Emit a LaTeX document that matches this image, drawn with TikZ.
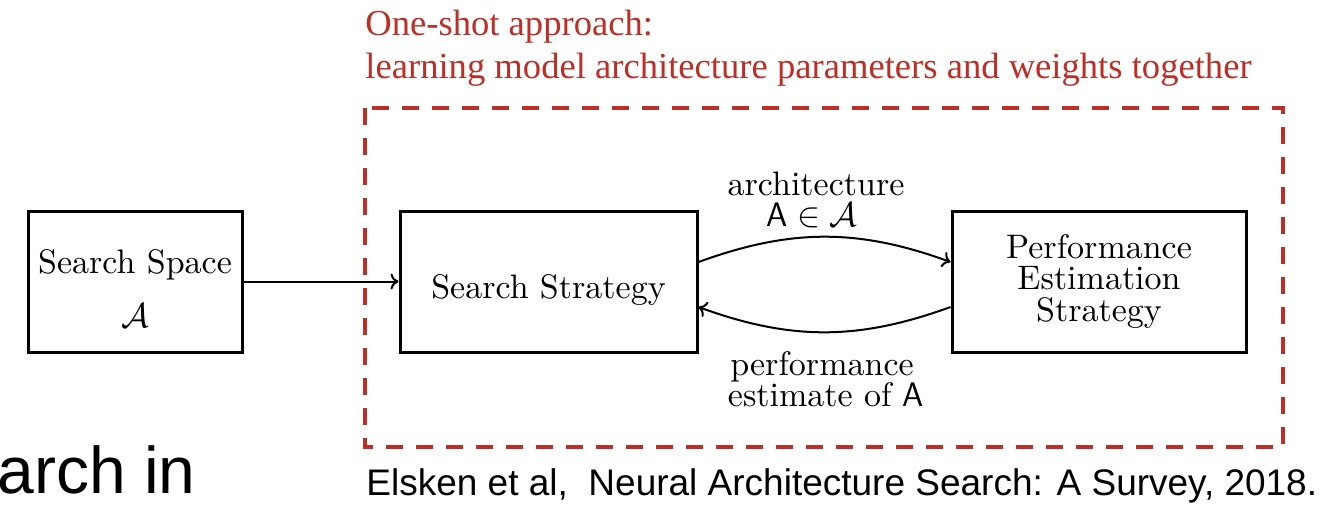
\documentclass[tikz,border=0pt]{standalone}
\usepackage{fontspec}
\newfontfamily\boxfont{lmroman10-regular}[Extension=.otf]
\newfontfamily\citefont{Liberation Sans}
\newfontfamily\notefont{Liberation Serif}
\definecolor{oneshotred}{RGB}{190,45,38}
\usetikzlibrary{arrows.meta}

\begin{document}
\begin{tikzpicture}[x=0.5pt,y=-0.5pt,
    block/.style={draw,line width=1.5pt,minimum height=70.5pt,align=center,inner sep=0pt,font=\boxfont\fontsize{17}{15.75}\selectfont},
    flow/.style={-{To[length=4pt,width=8pt]},line width=1pt},
    lbl/.style={anchor=base,inner sep=0pt,font=\boxfont\fontsize{17}{20}\selectfont},
    note/.style={anchor=base west,inner sep=0pt,text=oneshotred,font=\notefont\fontsize{18.3}{20}\selectfont}]
        \useasboundingbox (0,0) rectangle (1326,505);
        \node[block,minimum width=107pt] (space) at (135,281.5) {\rule{0pt}{18.5pt}Search Space\\[11.25pt]$\mathcal{A}$};
        \node[block,minimum width=148.5pt,text height=19.8pt,text depth=3.3pt] (strategy) at (548.5,281.5) {Search Strategy};
        \node[block,minimum width=147pt] (perf) at (1099,281.5) {Performance\\Estimation\\Strategy};
        \draw[flow] (space) -- (strategy);
        \draw[flow] ([yshift=9.75pt]strategy.east) to[bend left=20] ([yshift=9.75pt]perf.west);
        \draw[flow] ([yshift=-12.75pt]perf.west) to[bend left=20] ([yshift=-12.75pt]strategy.east);
        \node[lbl] (archlbl) at (816,195) {architecture};
        \node[lbl] (archsym) at (812,226) {$\mathsf{A}\in\mathcal{A}$};
        \node[lbl] (perflbl) at (822,375) {performance};
        \node[lbl] (estlbl) at (826,406) {estimate of $\mathsf{A}$};
        % one-shot region
        \draw[oneshotred,line width=2pt,dash pattern=on 8.5pt off 6.5pt] (365,108) rectangle (1283,447);
        \node[note] (oneshot) at (365,35) {One-shot approach:};
        \node[note] (oneshotsub) at (365,78) {learning model architecture parameters and weights together};
        \node[anchor=base west,inner sep=0pt,font=\citefont\fontsize{18.5}{20}\selectfont] (cite) at (366,495) {Elsken et al,\ \ Neural Architecture Search: A Survey, 2018.};
        \node[anchor=base west,inner sep=0pt,font=\citefont\fontsize{33}{36}\selectfont] (slidetitle) at (-3,493) {arch in};
      \end{tikzpicture}
\end{document}
